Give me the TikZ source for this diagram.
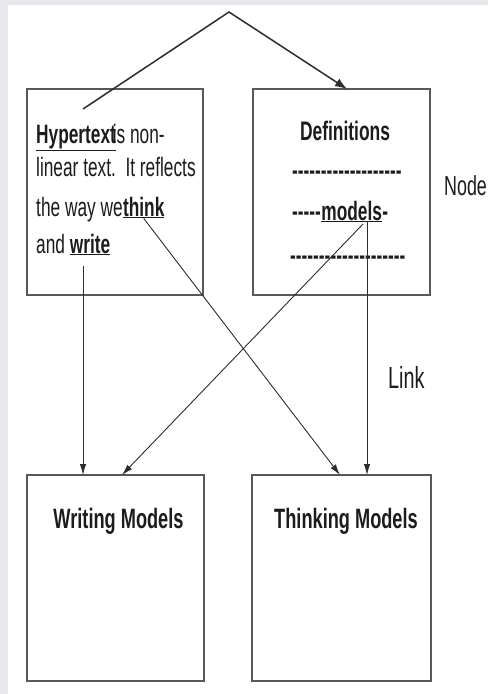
\documentclass[tikz,border=0pt]{standalone}
\usepackage{fontspec}
\setmainfont{Liberation Sans}[FakeStretch=0.65]
\usetikzlibrary{arrows.meta,calc}
\definecolor{bggray}{RGB}{232,232,236}
\definecolor{boxline}{RGB}{88,88,88}
\definecolor{ink}{RGB}{28,28,28}
\definecolor{conn}{RGB}{45,45,45}
\newcommand\hy{-\kern0pt}
\newcommand\hyrow[1]{\foreach \k in {1,...,#1}{\hy}}
\begin{document}
\begin{tikzpicture}[x=1pt,y=-1pt,
  box/.style={draw=boxline,line width=1.4pt,inner sep=0,outer sep=0,minimum height=206pt},
  txt/.style={inner sep=0,anchor=base west,text=ink,font=\fontsize{26.6}{30}\selectfont},
  btxt/.style={txt,font=\fontsize{26.6}{30}\selectfont\bfseries},
  head/.style={inner sep=0,anchor=base,text=ink,font=\fontsize{#1}{30}\selectfont\bfseries},
  lbl/.style={inner sep=0,anchor=base west,text=ink,font=\fontsize{#1}{32}\selectfont},
  conn/.style={draw=conn,line width=0.9pt,-{Latex[length=11pt,width=6.5pt]}},
  topconn/.style={draw=conn,line width=1.5pt,-{Latex[length=12pt,width=9pt]}}]
\useasboundingbox (0,0) rectangle (488,694);
\fill[bggray] (0,0) rectangle (488,694);
\fill[white] (8,5) rectangle (488,694);

% boxes
\node[box,minimum width=176pt] (hyp) at (115,192) {};
\node[box,minimum width=177pt] (defs) at (341.5,192) {};
\node[box,minimum width=177pt] (wri) at (115.5,578) {};
\node[box,minimum width=179pt] (thi) at (341.5,578) {};

% hypertext text
\node[btxt] (hword) at (36,143) {\underline{Hypertext}};
\node[txt] (l1) at ($(hword.base east)+(-3.5,0)$) {is non-};
\node[txt] (l2) at (36,176) {linear text.\ \ It reflects};
\node[txt] (l3) at (36,216) {the way we};
\node[btxt] (think) at (l3.base east) {\underline{think}};
\node[txt] (l4) at (36,253) {and};
\node[btxt] (write) at ($(l4.base east)+(4.5,0)$) {\underline{write}};

% definitions text
\node[head=26.8] (deft) at (345,140) {Definitions};
\node[btxt] (d1) at (292,179) {\hyrow{19}};
\node[btxt] (d2a) at (292,220) {\hyrow{5}};
\node[btxt] (models) at (d2a.base east) {\underline{models}};
\node[btxt] (d2b) at (models.base east) {\hy};
\node[btxt] (d3) at (290,264) {\hyrow{20}};

% bottom headings
\node[head=28] (wt) at (118.5,528) {Writing Models};
\node[head=28] (tt) at (346,528) {Thinking Models};

% labels
\node[lbl=27.5] (nodelbl) at (444,195) {Node};
\node[lbl=30.5] (linklbl) at (388,388) {Link};

% connectors
\coordinate (topstart) at (83,109);
\coordinate (apex) at (229,12);
\draw[topconn] (topstart) -- (apex) -- ($(defs.north)+(5.5,0)$);
\coordinate (wstart) at (83,266);
\draw[conn] (wstart) -- (wri.north -| wstart);
\draw[conn] (think.south) -- ($(thi.north)+(-1.5,0)$);
\coordinate (mA) at (367,222);
\coordinate (mB) at (363,224);
\draw[conn] (mA) -- (thi.north -| mA);
\draw[conn] (mB) -- ($(wri.north)+(6.5,0)$);
\end{tikzpicture}
\end{document}
